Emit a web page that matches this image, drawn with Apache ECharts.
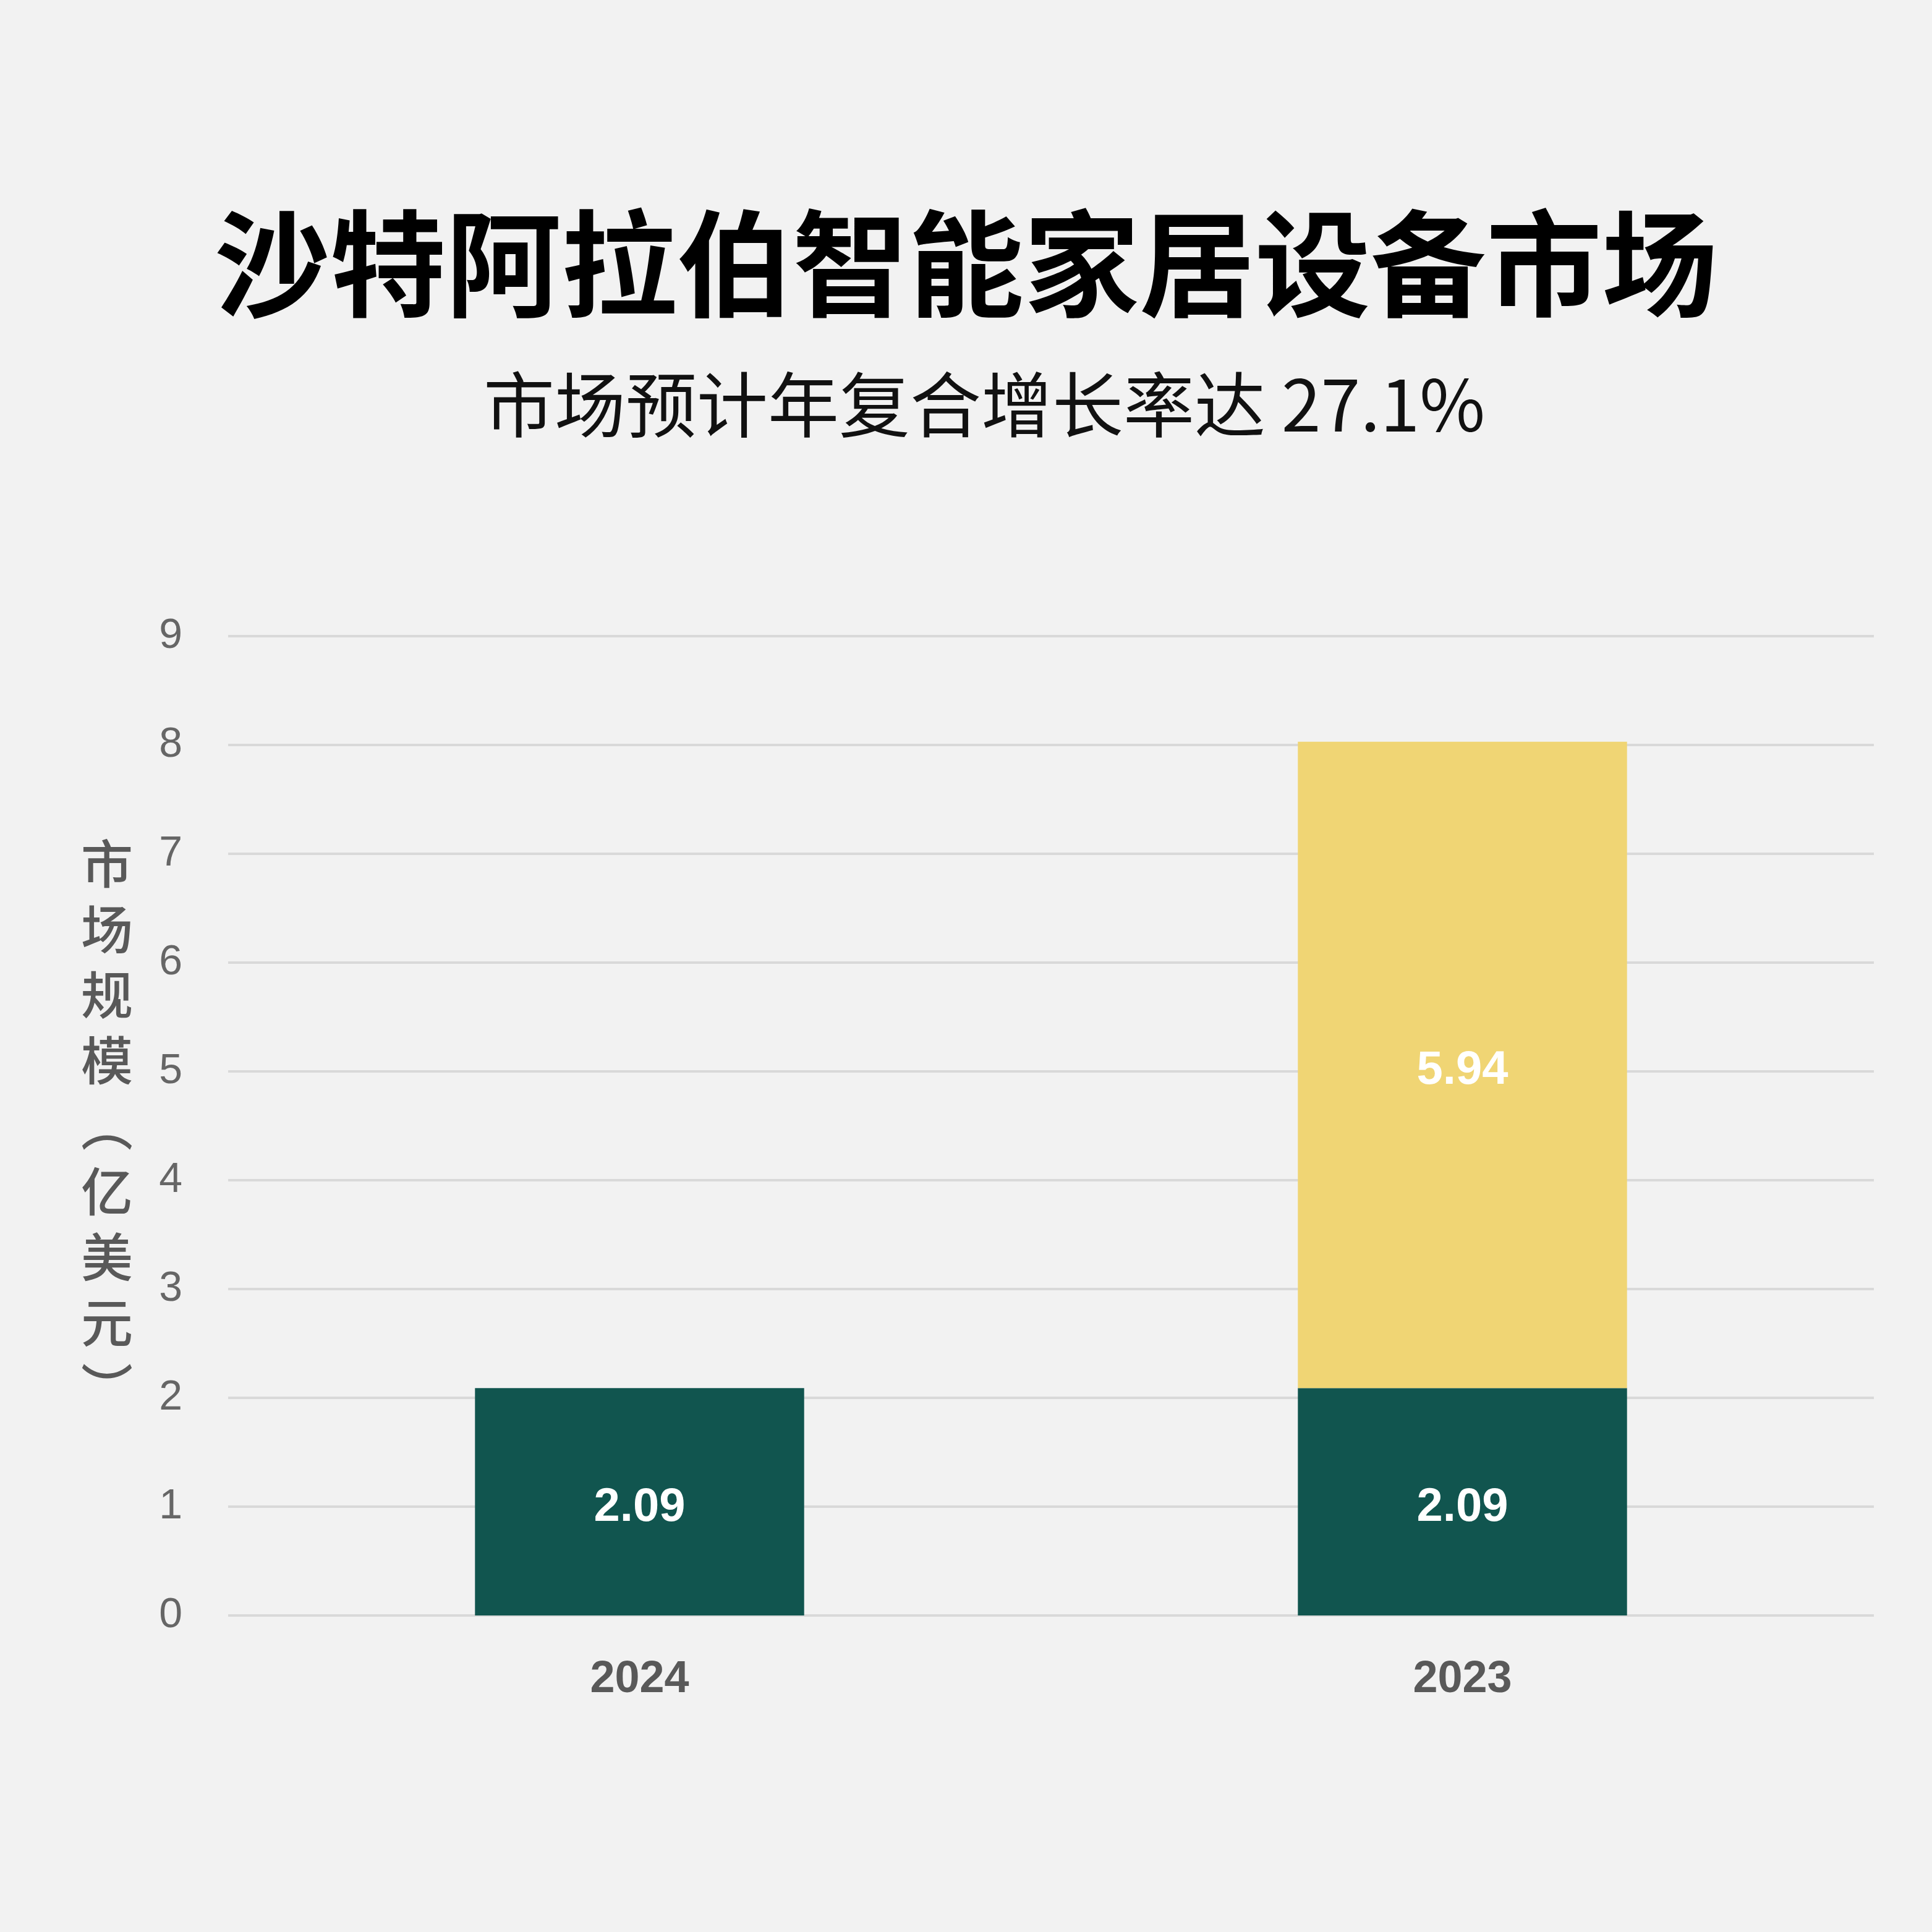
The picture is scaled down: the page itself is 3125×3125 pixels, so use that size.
<!DOCTYPE html>
<html>
<head>
<meta charset="utf-8">
<script src="https://cdn.jsdelivr.net/npm/echarts@6/dist/echarts.min.js"></script>
<style>
html,body{margin:0;padding:0;background:#f2f2f2;}
#chart{width:3125px;height:3125px;}
</style>
</head>
<body>
<div id="chart"></div>
<script>
const titleText = '沙特阿拉伯智能家居设备市场';
const subtitleText = '市场预计年复合增长率达 27.1%';
const categories = ['2024', '2023'];
const baseValues = [2.09, 2.09];
const growthValues = [null, 5.94];
const yTicks = [0, 1, 2, 3, 4, 5, 6, 7, 8, 9];
const yAxisName = ['市', '场', '规', '模', '︵', '亿', '美', '元', '︶'];

const chart = echarts.init(document.getElementById('chart'), null, {renderer: 'canvas'});
chart.setOption({
  backgroundColor: '#f2f2f2',
  animation: false,
  title: [
    {
      text: titleText,
      left: 'center',
      top: 328,
      textStyle: {fontFamily: '"Noto Sans CJK SC"', fontSize: 187, fontWeight: 'bold', color: '#000', lineHeight: 187}
    },
    {
      text: subtitleText,
      left: 777,
      top: 592,
      textStyle: {fontFamily: '"Noto Sans CJK SC"', fontSize: 115, fontWeight: 'normal', color: '#111', lineHeight: 115}
    }
  ],
  grid: {left: 369, right: 94, top: 1029, bottom: 512, containLabel: false},
  xAxis: {
    type: 'category',
    data: categories,
    axisLine: {show: false},
    axisTick: {show: false},
    axisLabel: {margin: 68, fontFamily: 'Liberation Sans, Arial', fontSize: 72, fontWeight: 'bold', color: '#595959'}
  },
  yAxis: {
    type: 'value',
    min: yTicks[0],
    max: yTicks[yTicks.length - 1],
    interval: 1,
    name: yAxisName.join('\n'),
    nameLocation: 'middle',
    nameRotate: 0,
    nameGap: 196,
    nameTextStyle: {fontFamily: '"Noto Sans CJK SC"', fontSize: 84, fontWeight: 500, lineHeight: 106, color: '#595959', align: 'center', verticalAlign: 'middle'},
    axisLine: {show: false},
    axisTick: {show: false},
    axisLabel: {margin: 74, fontFamily: 'Liberation Sans, Arial', fontSize: 68, color: '#666'},
    splitLine: {lineStyle: {color: '#d9d9d9', width: 4}}
  },
  series: [
    {
      type: 'bar',
      stack: 'total',
      data: baseValues,
      barWidth: '40%',
      itemStyle: {color: '#11554f'},
      label: {show: true, position: 'inside', offset: [0, 10], color: '#fff', fontFamily: 'Liberation Sans, Arial', fontWeight: 'bold', fontSize: 76, formatter: p => p.value.toFixed(2)}
    },
    {
      type: 'bar',
      stack: 'total',
      data: growthValues,
      barWidth: '40%',
      itemStyle: {color: '#f0d574'},
      label: {show: true, position: 'inside', offset: [0, 10], color: '#fff', fontFamily: 'Liberation Sans, Arial', fontWeight: 'bold', fontSize: 76, formatter: p => (p.value == null ? '' : p.value.toFixed(2))}
    }
  ]
});
</script>
</body>
</html>
